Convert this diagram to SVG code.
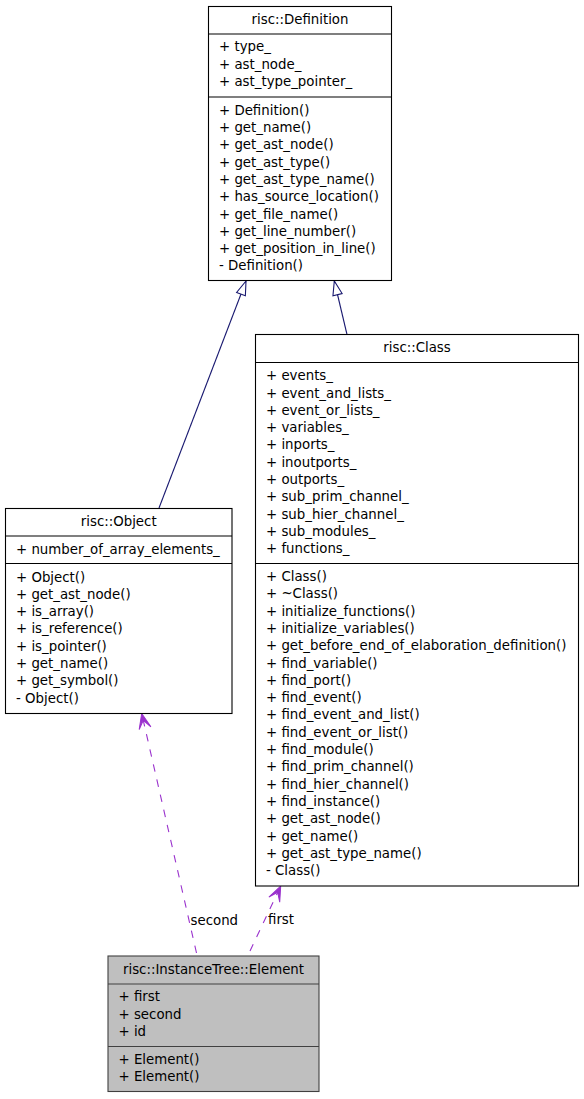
<svg xmlns="http://www.w3.org/2000/svg" width="584" height="1099" viewBox="0 0 584 1099">
<style>
text{font-family:"DejaVu Sans","Liberation Sans",sans-serif;font-size:13.33px;fill:#000}
.t{text-anchor:middle}
.box{fill:#fff;stroke:#000;stroke-width:1.1}
.cur{fill:#bfbfbf;stroke:#404040;stroke-width:1.1}
.sep{stroke:#000;stroke-width:1.1}
.sepc{stroke:#404040;stroke-width:1.1}
.inh{fill:none;stroke:#191970;stroke-width:1.1;marker-end:url(#tri)}
.use{fill:none;stroke:#9a32cd;stroke-width:1.1;stroke-dasharray:7.5,8;marker-end:url(#vee)}
</style>
<defs>
<marker id="tri" viewBox="-16 -7 17 14" refX="0" refY="0" markerWidth="17" markerHeight="14" markerUnits="userSpaceOnUse" orient="auto">
<path d="M0,0 L-14,-4.7 L-14,4.7 Z" fill="#fff" stroke="#191970" stroke-width="1.1"/>
</marker>
<marker id="vee" viewBox="-17 -8 18 16" refX="0" refY="0" markerWidth="18" markerHeight="16" markerUnits="userSpaceOnUse" orient="auto">
<path d="M0,0 L-15,-6 L-7,0 L-15,6 Z" fill="#9a32cd" stroke="#9a32cd" stroke-width="1"/>
</marker>
</defs>

<g id="connectors">
<path class="inh" d="M159,508 L246,281"/>
<path class="inh" d="M347,334.5 L334.3,281"/>
<path class="use" d="M196.5,953 L141.7,713.5"/>
<path class="use" d="M250,951 L280.7,886"/>
<text x="190.5" y="924.5">second</text>
<text x="268" y="924">first</text>
</g>

<g id="definition">
<rect class="box" x="208.5" y="6.5" width="183" height="274"/>
<line class="sep" x1="208.5" y1="34" x2="391.5" y2="34"/>
<line class="sep" x1="208.5" y1="97" x2="391.5" y2="97"/>
<text class="t" x="300" y="24">risc::Definition</text>
<text x="219" y="51.2">+ type_</text>
<text x="219" y="68.5">+ ast_node_</text>
<text x="219" y="85.8">+ ast_type_pointer_</text>
<text x="219" y="114.7">+ Definition()</text>
<text x="219" y="132">+ get_name()</text>
<text x="219" y="149.3">+ get_ast_node()</text>
<text x="219" y="166.6">+ get_ast_type()</text>
<text x="219" y="183.9">+ get_ast_type_name()</text>
<text x="219" y="201.2">+ has_source_location()</text>
<text x="219" y="218.5">+ get_file_name()</text>
<text x="219" y="235.8">+ get_line_number()</text>
<text x="219" y="253.1">+ get_position_in_line()</text>
<text x="219" y="270.4">- Definition()</text>
</g>

<g id="class">
<rect class="box" x="255.5" y="334.5" width="323" height="551.5"/>
<line class="sep" x1="255.5" y1="362.5" x2="578.5" y2="362.5"/>
<line class="sep" x1="255.5" y1="563.5" x2="578.5" y2="563.5"/>
<text class="t" x="417" y="352.3">risc::Class</text>
<text x="266" y="380.2">+ events_</text>
<text x="266" y="397.5">+ event_and_lists_</text>
<text x="266" y="414.8">+ event_or_lists_</text>
<text x="266" y="432.1">+ variables_</text>
<text x="266" y="449.4">+ inports_</text>
<text x="266" y="466.7">+ inoutports_</text>
<text x="266" y="484">+ outports_</text>
<text x="266" y="501.3">+ sub_prim_channel_</text>
<text x="266" y="518.6">+ sub_hier_channel_</text>
<text x="266" y="535.9">+ sub_modules_</text>
<text x="266" y="553.2">+ functions_</text>
<text x="266" y="581">+ Class()</text>
<text x="266" y="598.3">+ ~Class()</text>
<text x="266" y="615.6">+ initialize_functions()</text>
<text x="266" y="632.9">+ initialize_variables()</text>
<text x="266" y="650.2">+ get_before_end_of_elaboration_definition()</text>
<text x="266" y="667.5">+ find_variable()</text>
<text x="266" y="684.8">+ find_port()</text>
<text x="266" y="702.1">+ find_event()</text>
<text x="266" y="719.4">+ find_event_and_list()</text>
<text x="266" y="736.7">+ find_event_or_list()</text>
<text x="266" y="754">+ find_module()</text>
<text x="266" y="771.3">+ find_prim_channel()</text>
<text x="266" y="788.6">+ find_hier_channel()</text>
<text x="266" y="805.9">+ find_instance()</text>
<text x="266" y="823.2">+ get_ast_node()</text>
<text x="266" y="840.5">+ get_name()</text>
<text x="266" y="857.8">+ get_ast_type_name()</text>
<text x="266" y="875.1">- Class()</text>
</g>

<g id="object">
<rect class="box" x="5.5" y="508.5" width="226.5" height="205"/>
<line class="sep" x1="5.5" y1="536" x2="232" y2="536"/>
<line class="sep" x1="5.5" y1="563.5" x2="232" y2="563.5"/>
<text class="t" x="118.7" y="525.5">risc::Object</text>
<text x="16" y="553.7">+ number_of_array_elements_</text>
<text x="16" y="581.5">+ Object()</text>
<text x="16" y="598.8">+ get_ast_node()</text>
<text x="16" y="616.1">+ is_array()</text>
<text x="16" y="633.4">+ is_reference()</text>
<text x="16" y="650.7">+ is_pointer()</text>
<text x="16" y="668">+ get_name()</text>
<text x="16" y="685.3">+ get_symbol()</text>
<text x="16" y="702.6">- Object()</text>
</g>

<g id="element">
<rect class="cur" x="108" y="956" width="211" height="135.5"/>
<line class="sepc" x1="108" y1="984" x2="319" y2="984"/>
<line class="sepc" x1="108" y1="1046.5" x2="319" y2="1046.5"/>
<text class="t" x="213.5" y="973.5">risc::InstanceTree::Element</text>
<text x="118.5" y="1001.2">+ first</text>
<text x="118.5" y="1018.5">+ second</text>
<text x="118.5" y="1035.8">+ id</text>
<text x="118.5" y="1064">+ Element()</text>
<text x="118.5" y="1081.3">+ Element()</text>
</g>
</svg>
